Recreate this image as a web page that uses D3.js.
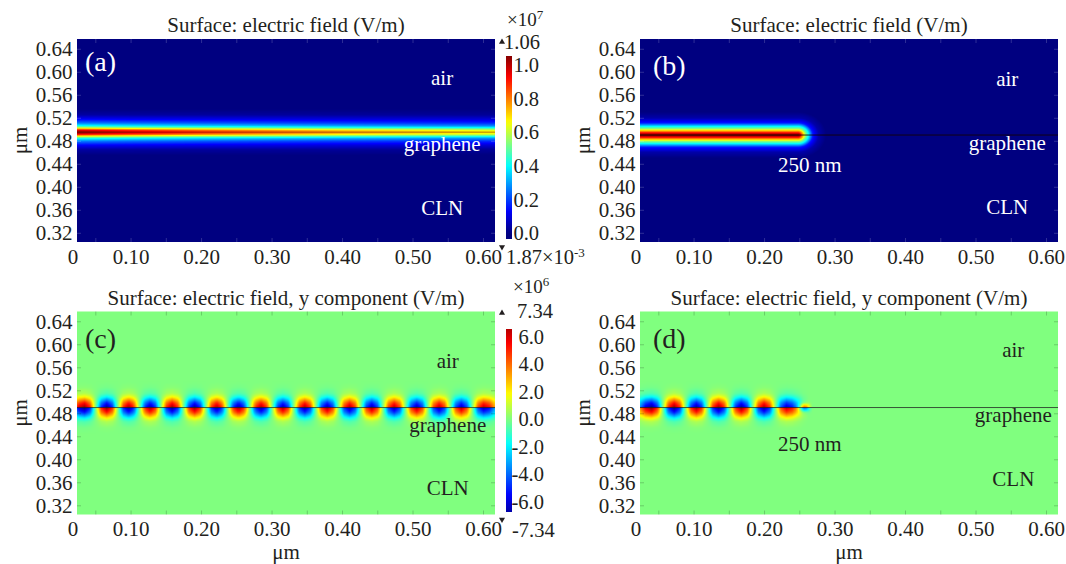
<!DOCTYPE html>
<html>
<head>
<meta charset="utf-8">
<script src="https://cdn.jsdelivr.net/npm/d3@7"></script>
<style>
  body { margin: 0; background: #fff; }
  svg text { font-family: "Liberation Serif", "Times New Roman", serif; }
</style>
</head>
<body>
<svg id="fig" width="1066" height="564"></svg>
<script>
// 坐标轴范围与刻度 (μm)
var xExtent = [0.024, 0.617];
var yExtent = [0.304, 0.657];
var xTickVals = [0.10, 0.20, 0.30, 0.40, 0.50, 0.60];
var xMinorVals = [0.05, 0.10, 0.15, 0.20, 0.25, 0.30, 0.35, 0.40, 0.45, 0.50, 0.55, 0.60];
var yTickVals = [0.32, 0.36, 0.40, 0.44, 0.48, 0.52, 0.56, 0.60, 0.64];

// 色标: |E| (×10^7 V/m) 与 Ey (×10^6 V/m)
var normTicks = [0, 0.2, 0.4, 0.6, 0.8, 1.0];
var normMax = 1.06, normMin = 0;
var eyTicks = [-6, -4, -2, 0, 2, 4, 6];
var eyMax = 7.34, eyMin = -7.34;

// (a) 电场模值: 沿x的峰值, 以及离石墨烯的纵向衰减
var aPeakX = [0.024, 0.10, 0.20, 0.30, 0.40, 0.50, 0.617];
var aPeakV = [1.06, 0.98, 0.90, 0.84, 0.78, 0.74, 0.70];
var aProfD = [0, 0.0035, 0.0052, 0.007, 0.0087, 0.0113, 0.0157, 0.0226, 0.030, 0.040];
var aProfV = [1, 0.90, 0.76, 0.63, 0.51, 0.38, 0.25, 0.125, 0.035, 0];
var aLineY = 0.495;

// (b) 250 nm 石墨烯
var bPeak = 1.06, bEndX = 0.248, bLineY = 0.490;
var bProfD = [0, 0.0035, 0.0052, 0.0087, 0.0113, 0.0148, 0.021, 0.0296, 0.040];
var bProfV = [1, 0.90, 0.80, 0.63, 0.50, 0.38, 0.15, 0.04, 0];

// (c) Ey 波瓣: 中心x, 上半部符号, 幅值(×10^6)
var cLobeX = [0.035, 0.066, 0.098, 0.127, 0.159, 0.191, 0.223, 0.252, 0.286, 0.316,
              0.347, 0.379, 0.411, 0.442, 0.474, 0.506, 0.538, 0.569, 0.601];
var cLobeS = [1, -1, 1, -1, 1, -1, 1, -1, 1, -1, 1, -1, 1, -1, 1, -1, 1, -1, 1];
var cLobeA = [7.3, 7.2, 7.2, 7.1, 7.1, 7.0, 7.0, 7.0, 6.9, 6.9,
              6.9, 6.8, 6.8, 6.8, 6.7, 6.7, 6.7, 6.6, 6.6];
var cLobeW = [0.0315, 0.0315, 0.0315, 0.0315, 0.0315, 0.0315, 0.0315, 0.0315, 0.0315, 0.0315,
              0.0315, 0.0315, 0.0315, 0.0315, 0.0315, 0.0315, 0.0315, 0.0315, 0.0315];
var cLineY = 0.490;

// (d) Ey 波瓣 (250 nm)
var dLobeX = [0.040, 0.073, 0.104, 0.135, 0.168, 0.200, 0.232, 0.257];
var dLobeS = [-1, 1, -1, 1, -1, 1, -1, 1];
var dLobeA = [7.2, 7.2, 7.1, 7.1, 7.0, 6.9, 6.4, 4.8];
var dLobeW = [0.0315, 0.0315, 0.0315, 0.0315, 0.0315, 0.0315, 0.0315, 0.012];
var dLineY = 0.490;

// 波瓣形状 (横向 / 纵向)
var lobeHalf = 0.0315;
var lobeU = [0, 0.25, 0.5, 0.75, 1], lobeLv = [1, 0.85, 0.5, 0.15, 0];
var lobeProfD = [0, 0.0047, 0.0087, 0.0134, 0.019, 0.0244, 0.035, 0.045];
var lobeProfV = [1, 0.85, 0.72, 0.5, 0.25, 0.1, 0.02, 0];

var svg = d3.select('#fig');
var pw = 418, ph = 203;
var ink = '#231f20';

// jet 色图
var jet = d3.scaleLinear()
    .domain([0, 1 / 8, 3 / 8, 5 / 8, 7 / 8, 1])
    .range(['#000080', '#0000ff', '#00ffff', '#ffff00', '#ff0000', '#800000'])
    .interpolate(d3.interpolateRgb).clamp(true);
var lut = d3.range(512).map(i => d3.rgb(jet(i / 511)));

var aPeak = d3.scaleLinear().domain(aPeakX).range(aPeakV).clamp(true);
var aProf = d3.scaleLinear().domain(aProfD).range(aProfV).clamp(true);
var bProf = d3.scaleLinear().domain(bProfD).range(bProfV).clamp(true);
var lobeL = d3.scaleLinear().domain(lobeU).range(lobeLv).clamp(true);
var lobeQ = d3.scaleLinear().domain(lobeProfD).range(lobeProfV).clamp(true);

var normT = v => (v - normMin) / (normMax - normMin);
var eyT = v => (v - eyMin) / (eyMax - eyMin);

function fieldA(x, y) { return aPeak(x) * aProf(Math.abs(y - aLineY)); }
function fieldB(x, y) {
    var dx = Math.max(0, x - bEndX), dy = y - bLineY;
    return bPeak * bProf(Math.sqrt(dx * dx + dy * dy));
}
function lobeField(X, S, A, Wd, y0) {
    return function (x, y) {
        var dy = y - y0, v = 0;
        for (var i = 0; i < X.length; i++) {
            var u = Math.abs(x - X[i]) / Wd[i];
            if (u >= 1) continue;
            v += S[i] * A[i] * lobeL(u) * lobeQ(Math.abs(dy) * lobeHalf / Wd[i]);
        }
        return dy >= 0 ? v : -v;
    };
}

var titleE = 'Surface: electric field (V/m)';
var titleY = 'Surface: electric field, y component (V/m)';

var panels = [
    { left: 77, top: 39, title: titleE, field: fieldA, t: normT, lineY: aLineY, lineX0: xExtent[0],
      line: 'rgba(90,20,0,0.45)', tick: 'rgba(255,255,255,0.18)', txt: '#fff', xTitle: false,
      labels: [['(a)', 0.0353, 0.601, 28, 'start'], ['air', 0.542, 0.577], ['graphene', 0.542, 0.4622], ['CLN', 0.542, 0.351]] },
    { left: 640, top: 39, title: titleE, field: fieldB, t: normT, lineY: bLineY, lineX0: xExtent[0],
      line: 'rgba(20,0,0,0.85)', tick: 'rgba(255,255,255,0.18)', txt: '#fff', xTitle: false,
      labels: [['(b)', 0.0424, 0.5944, 28, 'start'], ['air', 0.545, 0.5753], ['graphene', 0.545, 0.464],
               ['250 nm', 0.265, 0.4257], ['CLN', 0.545, 0.3527]] },
    { left: 77, top: 311.5, title: titleY, field: lobeField(cLobeX, cLobeS, cLobeA, cLobeW, cLineY), t: eyT,
      lineY: cLineY, lineX0: xExtent[0], line: 'rgba(30,30,30,0.7)', tick: 'rgba(0,0,0,0.2)', txt: ink, xTitle: true,
      labels: [['(c)', 0.0353, 0.5935, 28, 'start'], ['air', 0.550, 0.5596], ['graphene', 0.550, 0.4475], ['CLN', 0.550, 0.3379]] },
    { left: 640, top: 311.5, title: titleY, field: lobeField(dLobeX, dLobeS, dLobeA, dLobeW, dLineY), t: eyT,
      lineY: dLineY, lineX0: xExtent[0], line: 'rgba(30,30,30,0.75)', tick: 'rgba(0,0,0,0.2)', txt: ink, xTitle: true,
      labels: [['(d)', 0.0424, 0.5935, 28, 'start'], ['air', 0.5536, 0.5779], ['graphene', 0.5536, 0.4648],
               ['250 nm', 0.265, 0.4144], ['CLN', 0.5536, 0.3536]] }
];

function styleAxis(g, size) {
    g.attr('font-family', null).attr('font-size', size).style('color', ink);
    g.select('.domain').remove();
}

panels.forEach(p => {
    var x = d3.scaleLinear().domain(xExtent).range([p.left, p.left + pw]);
    var y = d3.scaleLinear().domain(yExtent).range([p.top + ph, p.top]);

    // 场分布用 canvas 逐像素着色
    var cv = document.createElement('canvas');
    cv.width = pw; cv.height = ph;
    var ctx = cv.getContext('2d'), img = ctx.createImageData(pw, ph);
    for (var j = 0; j < ph; j++) {
        var yy = y.invert(p.top + j + 0.5);
        for (var i = 0; i < pw; i++) {
            var t = p.t(p.field(x.invert(p.left + i + 0.5), yy));
            var c = lut[Math.round(Math.max(0, Math.min(1, t)) * 511)];
            var k = (j * pw + i) * 4;
            img.data[k] = c.r; img.data[k + 1] = c.g; img.data[k + 2] = c.b; img.data[k + 3] = 255;
        }
    }
    ctx.putImageData(img, 0, 0);
    svg.append('image').attr('x', p.left).attr('y', p.top)
        .attr('width', pw).attr('height', ph)
        .attr('preserveAspectRatio', 'none')
        .attr('href', cv.toDataURL());

    // 石墨烯/界面线
    svg.append('line')
        .attr('x1', x(p.lineX0)).attr('x2', x(xExtent[1]))
        .attr('y1', y(p.lineY)).attr('y2', y(p.lineY))
        .attr('stroke', p.line).attr('stroke-width', 1);

    // 内侧小刻度
    var inner = [
        [d3.axisBottom(x).tickValues(xMinorVals), 'translate(0,' + (p.top + ph) + ')'],
        [d3.axisTop(x).tickValues(xMinorVals), 'translate(0,' + p.top + ')'],
        [d3.axisLeft(y).tickValues(yTickVals), 'translate(' + p.left + ',0)'],
        [d3.axisRight(y).tickValues(yTickVals), 'translate(' + (p.left + pw) + ',0)']
    ];
    inner.forEach(a => {
        var g = svg.append('g').attr('transform', a[1])
            .call(a[0].tickSize(-4).tickFormat(''));
        g.select('.domain').remove();
        g.selectAll('line').attr('stroke', p.tick);
    });

    // 刻度标签
    var gx = svg.append('g').attr('transform', 'translate(0,' + (p.top + ph) + ')')
        .call(d3.axisBottom(x).tickValues(xTickVals).tickSize(0).tickPadding(7).tickFormat(d => d.toFixed(2)));
    styleAxis(gx, 21);
    svg.append('text').attr('x', p.left - 4).attr('y', p.top + ph + 7).attr('dy', '0.71em')
        .attr('text-anchor', 'middle').attr('font-size', 21).attr('fill', ink).text('0');

    var gy = svg.append('g').attr('transform', 'translate(' + p.left + ',0)')
        .call(d3.axisLeft(y).tickValues(yTickVals).tickSize(0).tickPadding(4.5).tickFormat(d => d.toFixed(2)));
    styleAxis(gy, 21);

    svg.append('text')
        .attr('transform', 'translate(' + (p.left - 57) + ',' + (p.top + ph / 2) + ') rotate(-90)')
        .attr('text-anchor', 'middle').attr('dy', '0.35em')
        .attr('font-size', 21).attr('fill', ink).text('μm');

    if (p.xTitle) {
        svg.append('text').attr('x', p.left + pw / 2).attr('y', p.top + ph + 44)
            .attr('text-anchor', 'middle').attr('font-size', 21).attr('fill', ink).text('μm');
    }

    svg.append('text').attr('x', p.left + pw / 2).attr('y', p.top - 7)
        .attr('text-anchor', 'middle').attr('font-size', 21).attr('fill', ink).text(p.title);

    // 区域标注
    p.labels.forEach(l => {
        svg.append('text').attr('x', x(l[1])).attr('y', y(l[2]))
            .attr('text-anchor', l[4] || 'middle').attr('font-size', l[3] || 21)
            .attr('fill', p.txt).text(l[0]);
    });
});

// 色标
function colorbar(o) {
    var cb = d3.scaleLinear().domain(o.dom).range(o.rng);
    var id = 'grad' + o.key;
    var grad = svg.append('defs').append('linearGradient').attr('id', id)
        .attr('x1', 0).attr('y1', 0).attr('x2', 0).attr('y2', 1);
    d3.range(41).forEach(i => {
        var yy = o.y0 + (o.y1 - o.y0) * i / 40;
        grad.append('stop').attr('offset', (i / 40 * 100) + '%').attr('stop-color', jet(o.t(cb.invert(yy))));
    });
    svg.append('rect').attr('x', 506).attr('y', o.y0).attr('width', 6).attr('height', o.y1 - o.y0)
        .attr('fill', 'url(#' + id + ')');
    svg.append('g').selectAll('text').data(o.ticks).join('text')
        .attr('x', o.labelEnd).attr('y', d => cb(d)).attr('dy', '0.35em')
        .attr('text-anchor', 'end').attr('font-size', 20.5).attr('fill', ink)
        .text(d => d.toFixed(1));

    var tri = d3.symbol().type(d3.symbolTriangle).size(16);
    svg.append('path').attr('d', tri()).attr('fill', ink)
        .attr('transform', 'translate(502,' + o.maxTri + ')');
    svg.append('path').attr('d', tri()).attr('fill', ink)
        .attr('transform', 'translate(502,' + o.minTri + ') rotate(180)');

    svg.append('text').attr('x', o.maxX).attr('y', o.maxY).attr('dy', '0.35em')
        .attr('font-size', 20.5).attr('fill', ink).text(o.maxText);
    var mn = svg.append('text').attr('x', o.minX).attr('y', o.minY).attr('dy', '0.35em')
        .attr('font-size', 20.5).attr('fill', ink).text(o.minText);
    if (o.minSup) mn.append('tspan').attr('font-size', 13).attr('dy', '-0.55em').text(o.minSup);

    var ex = svg.append('text').attr('x', o.expX).attr('y', o.expY).attr('dy', '0.35em')
        .attr('font-size', 19).attr('fill', ink).text('×10');
    ex.append('tspan').attr('font-size', 13).attr('dy', '-0.55em').text(o.exp);
}

colorbar({ key: 'n', dom: [0, 1], rng: [233, 65], y0: 56, y1: 239, t: normT, ticks: normTicks, labelEnd: 539,
    maxTri: 42, minTri: 247, maxX: 504, maxY: 42, maxText: normMax.toFixed(2),
    minX: 506, minY: 257, minText: '1.87×10', minSup: '-3', expX: 507, expY: 19, exp: '7' });
colorbar({ key: 'y', dom: [-6, 6], rng: [501.7, 336.7], y0: 329, y1: 512, t: eyT, ticks: eyTicks, labelEnd: 544,
    maxTri: 313, minTri: 519.5, maxX: 517, maxY: 311, maxText: eyMax.toFixed(2),
    minX: 512, minY: 529.5, minText: eyMin.toFixed(2), expX: 513, expY: 286, exp: '6' });
</script>
</body>
</html>
